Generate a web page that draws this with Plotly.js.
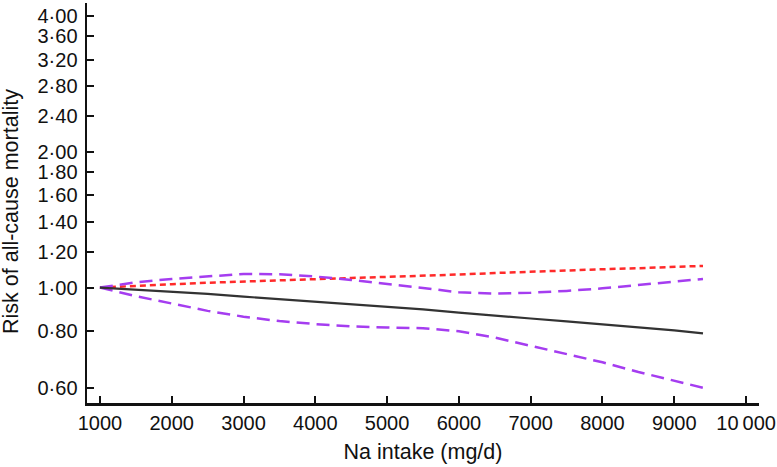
<!DOCTYPE html>
<html>
<head>
<meta charset="utf-8">
<script src="https://cdn.plot.ly/plotly-3.0.1.min.js"></script>
<style>html,body{margin:0;padding:0;background:#fff;}#chart{width:777px;height:467px;}</style>
</head>
<body>
<div id="chart"></div>
<script>
var naIntake = [1000, 1500, 2000, 2500, 3000, 3500, 4000, 4500, 5000, 5500, 6000, 6500, 7000, 7500, 8000, 8500, 9000, 9400];
var riskEstimate = [1.00, 0.99, 0.98, 0.968, 0.955, 0.943, 0.93, 0.919, 0.908, 0.895, 0.880, 0.866, 0.854, 0.842, 0.830, 0.817, 0.804, 0.792];
var upperCI = [1.00, 1.027, 1.045, 1.06, 1.072, 1.07, 1.058, 1.04, 1.02, 0.998, 0.976, 0.970, 0.974, 0.983, 0.996, 1.014, 1.032, 1.045];
var lowerCI = [1.00, 0.957, 0.922, 0.888, 0.862, 0.843, 0.83, 0.82, 0.816, 0.813, 0.800, 0.775, 0.743, 0.712, 0.683, 0.650, 0.622, 0.600];
var redLine = [1.00, 1.01, 1.017, 1.025, 1.032, 1.037, 1.045, 1.05, 1.056, 1.061, 1.069, 1.077, 1.085, 1.091, 1.098, 1.104, 1.111, 1.117];

var yTickVals = [0.60, 0.80, 1.00, 1.20, 1.40, 1.60, 1.80, 2.00, 2.40, 2.80, 3.20, 3.60, 4.00];
var yTickText = ['0·60', '0·80', '1·00', '1·20', '1·40', '1·60', '1·80', '2·00', '2·40', '2·80', '3·20', '3·60', '4·00'];
var xTickVals = [1000, 2000, 3000, 4000, 5000, 6000, 7000, 8000, 9000, 10000];
var xTickText = ['1000', '2000', '3000', '4000', '5000', '6000', '7000', '8000', '9000', '10\u2009000'];
var yTitle = 'Risk of all-cause mortality';
var xTitle = 'Na intake (mg/d)';

var purple = '#A53DF0';
var traces = [
  {x: naIntake, y: redLine, mode: 'lines', line: {color: '#FF2A2A', width: 2.5, dash: '6px,4px'}},
  {x: naIntake, y: upperCI, mode: 'lines', line: {color: purple, width: 2.5, dash: '13px,7px'}},
  {x: naIntake, y: lowerCI, mode: 'lines', line: {color: purple, width: 2.5, dash: '13px,7px'}},
  {x: naIntake, y: riskEstimate, mode: 'lines', line: {color: '#333333', width: 2.2}}
];

var tickFont = {family: 'Liberation Sans, Arial, sans-serif', size: 20, color: '#111'};
var titleFont = {family: 'Liberation Sans, Arial, sans-serif', size: 21.5, color: '#111'};
var layout = {
  width: 777, height: 467,
  margin: {l: 87, r: 18, t: 3, b: 64},
  paper_bgcolor: '#fff', plot_bgcolor: '#fff',
  showlegend: false,
  font: tickFont,
  xaxis: {
    range: [820, 10180],
    tickvals: xTickVals, ticktext: xTickText,
    ticks: 'inside', ticklen: 7, tickwidth: 2, tickcolor: '#111',
    showline: true, linewidth: 2.5, linecolor: '#111',
    showgrid: false, zeroline: false,
    ticklabelstandoff: 0,
    tickfont: tickFont,
    title: {text: xTitle, font: titleFont, standoff: 12}
  },
  yaxis: {
    type: 'log',
    range: [Math.log10(0.555), Math.log10(4.27)],
    tickvals: yTickVals, ticktext: yTickText,
    ticks: 'inside', ticklen: 7, tickwidth: 2, tickcolor: '#111',
    showline: true, linewidth: 2.5, linecolor: '#111',
    showgrid: false, zeroline: false,
    ticklabelstandoff: 3,
    tickfont: tickFont
  },
  annotations: [{
    text: yTitle, font: titleFont, textangle: -90,
    xref: 'paper', yref: 'paper', xanchor: 'center', yanchor: 'middle',
    x: (11 - 87) / (777 - 87 - 18), y: (403 - 212) / 400,
    showarrow: false
  }]
};
Plotly.newPlot('chart', traces, layout, {displayModeBar: false, staticPlot: true});
</script>
</body>
</html>
